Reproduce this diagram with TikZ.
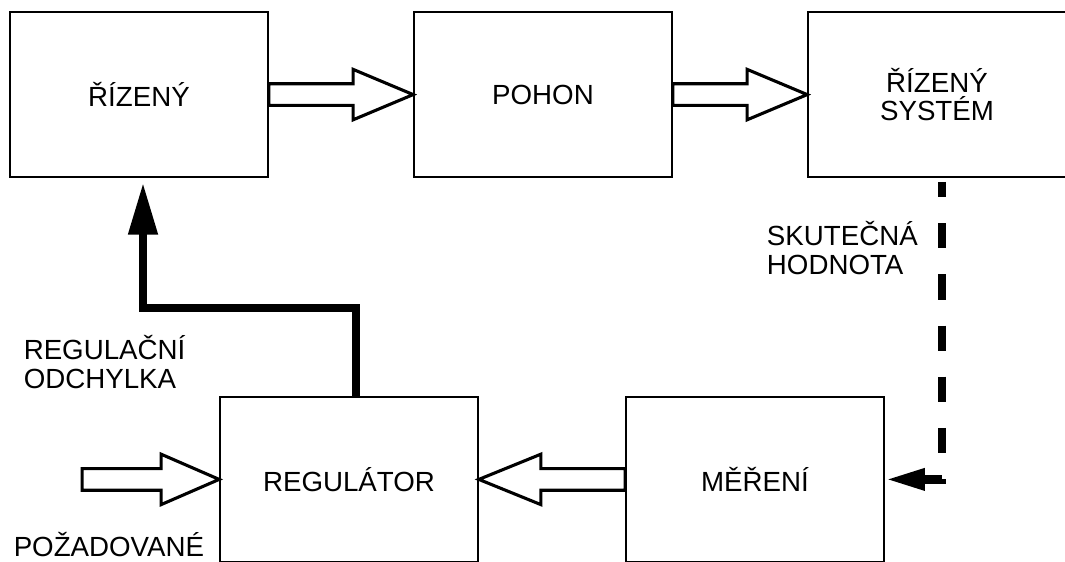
\documentclass[tikz,border=0pt]{standalone}
\usepackage{fontspec}
\setmainfont{Liberation Sans}
\usepackage{tikz}
\usetikzlibrary{arrows.meta, calc}

% hollow block arrow: from, to, signed head length
\newcommand{\hollowarrow}[3]{%
  \draw[hollow] ($(#1)+(0,0.27)$) -- ($(#2)-(#3,-0.27)$) -- ($(#2)-(#3,-0.63)$)
    -- (#2) -- ($(#2)-(#3,0.63)$) -- ($(#2)-(#3,0.27)$) -- ($(#1)+(0,-0.27)$) -- cycle;}

\begin{document}
\begin{tikzpicture}[font=\fontsize{19.7}{20.2}\selectfont,
  block/.style={draw, line width=1.2pt, minimum width=6.45cm, minimum height=4.125cm, inner sep=0pt, align=center},
  hollow/.style={draw, fill=white, line width=2.2pt, line join=miter},
  fbarrow/.style={line width=5.7pt, -{Triangle[length=1.3cm, width=0.7cm]}},
  dashline/.style={line width=6.2pt, dash pattern=on 0.63cm off 0.65cm, dash phase=0.25cm,
    -{Triangle[length=1cm, width=0.5cm]}}]
  \useasboundingbox (0,0) rectangle (26.625,14.025);
  \clip (0,0) rectangle (26.625,14.025);

  % upper row
  \node[block] (ctrl) at (3.475,11.66) {ŘÍZENÝ};
  \node[block] (drive) at (13.575,11.66) {POHON};
  \node[block] (plant) at (23.425,11.66) {ŘÍZENÝ\\SYSTÉM};

  % lower row
  \node[block] (reg) at (8.725,2.04) {REGULÁTOR};
  \node[block] (meas) at (18.875,2.04) {MĚŘENÍ};

  \coordinate (sp) at ($(reg.west)+(-3.425,0)$);

  \hollowarrow{ctrl.east}{drive.west}{1.5}
  \hollowarrow{drive.east}{plant.west}{1.5}
  \hollowarrow{sp}{reg.west}{1.45}
  \hollowarrow{meas.west}{reg.east}{-1.55}

  \draw[fbarrow] ($(reg.north)+(0.18,0)$) -- ++(0,2.2) -| ($(ctrl.south)+(0.1,-0.12)$);
  \draw[dashline] ($(plant.south)+(0.125,-0.1)$) |- (meas.east);

  % labels
  \node[anchor=west, align=left] (act) at (19.05,7.82) {SKUTEČNÁ\\HODNOTA};
  \node[anchor=west, align=left] (err) at (0.47,4.97) {REGULAČNÍ\\ODCHYLKA};
  \node[anchor=west] (ref) at (0.22,0.42) {POŽADOVANÉ};
\end{tikzpicture}
\end{document}
